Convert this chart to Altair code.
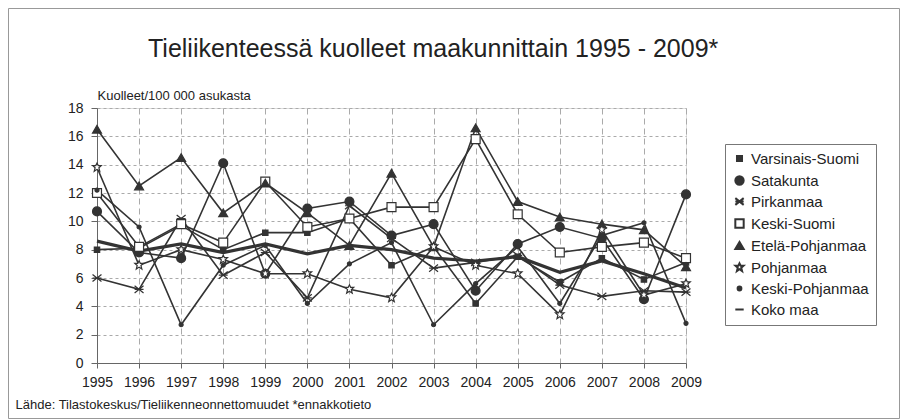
import altair as alt
import pandas as pd

years = [1995, 1996, 1997, 1998, 1999, 2000, 2001, 2002, 2003, 2004, 2005, 2006, 2007, 2008, 2009]

series_names = ["Varsinais-Suomi", "Satakunta", "Pirkanmaa", "Keski-Suomi",
                "Etelä-Pohjanmaa", "Pohjanmaa", "Keski-Pohjanmaa", "Koko maa"]

varsinais_suomi = [8.0, 8.1, 9.7, 8.0, 9.2, 9.2, 10.2, 6.9, 8.2, 4.2, 7.5, 5.7, 7.4, 5.9, 7.1]
satakunta = [10.7, 7.8, 7.4, 14.1, 6.3, 10.9, 11.4, 9.0, 9.8, 5.1, 8.4, 9.6, 8.8, 4.5, 11.9]
pirkanmaa = [6.0, 5.2, 10.2, 6.2, 7.8, 4.6, 11.1, 8.8, 6.7, 7.1, 7.6, 5.5, 4.7, 5.1, 5.0]
keski_suomi = [12.0, 8.2, 9.8, 8.5, 12.8, 9.6, 10.2, 11.0, 11.0, 15.8, 10.5, 7.8, 8.2, 8.5, 7.4]
etela_pohjanmaa = [16.5, 12.5, 14.5, 10.6, 12.7, 10.6, 8.3, 13.4, 8.2, 16.6, 11.4, 10.3, 9.8, 9.4, 6.8]
pohjanmaa = [13.8, 6.9, 8.0, 7.3, 6.3, 6.3, 5.2, 4.6, 8.2, 6.9, 6.3, 3.4, 9.4, 4.8, 5.6]
keski_pohjanmaa = [12.2, 9.6, 2.7, 6.9, 8.3, 4.2, 7.0, 8.5, 2.7, 5.6, 8.2, 4.2, 9.0, 9.9, 2.8]
koko_maa = [8.6, 7.9, 8.4, 7.8, 8.4, 7.7, 8.3, 8.0, 7.4, 7.2, 7.5, 6.4, 7.2, 6.3, 5.3]

y_ticks = [0, 2, 4, 6, 8, 10, 12, 14, 16, 18]

title_text = ["Tieliikenteessä kuolleet maakunnittain 1995 - 2009*"]

all_values = [varsinais_suomi, satakunta, pirkanmaa, keski_suomi,
              etela_pohjanmaa, pohjanmaa, keski_pohjanmaa, koko_maa]

rows = []
for name, vals in zip(series_names, all_values):
    for yr, v in zip(years, vals):
        rows.append({"vuosi": yr, "arvo": v, "sarja": name})
df = pd.DataFrame(rows)

FONT = "Liberation Sans"
LINE = "#333333"

shapes = [
    "M-0.6,-0.6H0.6V0.6H-0.6Z",
    "circle",
    "M-1,-0.8L1,0.8M-1,0.8L1,-0.8M-1,0L1,0",
    "square",
    "triangle-up",
    "M0,-1L0.28,-0.42L0.95,-0.42L0.42,0.06L0.62,0.85L0,0.42L-0.62,0.85L-0.42,0.06L-0.95,-0.42L-0.28,-0.42Z",
    "M0.45,0A0.45,0.45 0 1,1 -0.45,0A0.45,0.45 0 1,1 0.45,0Z",
    "stroke",
]
fills = [LINE, LINE, "transparent", "white", LINE, "white", LINE, LINE]

x_enc = alt.X("vuosi:Q",
              scale=alt.Scale(domain=[1995, 2009], nice=False, zero=False),
              axis=alt.Axis(values=years, format="d",
                            title="Lähde: Tilastokeskus/Tieliikenneonnettomuudet  *ennakkotieto",
                            titleX=-82, titleY=45, titleAlign="left", titleBaseline="alphabetic",
                            titleFontWeight="normal", titleFontSize=13, titleColor="#222", titleFont=FONT,
                            labelFontSize=14, labelColor="#222", labelFont=FONT, labelPadding=7,
                            labelOverlap=False,
                            grid=True, gridDash=[6, 4], gridColor="#aaa", tickColor="#666",
                            domainColor="#666", tickSize=5, labelFlush=False))
y_enc = alt.Y("arvo:Q",
              scale=alt.Scale(domain=[0, 18], nice=False),
              axis=alt.Axis(values=y_ticks, title="Kuolleet/100 000 asukasta",
                            titleAngle=0, titleX=0, titleY=-6, titleAlign="left",
                            titleBaseline="bottom", titleFontWeight="normal", titleFontSize=13,
                            titleColor="#222", titleFont=FONT,
                            labelFontSize=14, labelColor="#222", labelFont=FONT, labelPadding=8,
                            labelOverlap=False,
                            grid=True, gridDash=[3, 3], gridColor="#aaa", tickColor="#666",
                            domainColor="#666", tickSize=6))

lines = alt.Chart(df).mark_line(color=LINE).encode(
    x=x_enc,
    y=y_enc,
    detail="sarja:N",
    order="vuosi:Q",
    strokeWidth=alt.condition(alt.datum.sarja == "Koko maa", alt.value(3.2), alt.value(1.6)),
)

legend = alt.Legend(title=None, orient="none", legendX=628, legendY=36,
                    labelFontSize=15, labelFont=FONT, labelColor="#222",
                    symbolSize=70, symbolStrokeWidth=2, rowPadding=5,
                    strokeColor="#777", padding=7, labelLimit=200, labelOffset=4)

points = alt.Chart(df).transform_filter(alt.datum.sarja != "Koko maa").mark_point(
    size=80, strokeWidth=1.2, opacity=1, filled=False
).encode(
    x=x_enc,
    y=y_enc,
    shape=alt.Shape("sarja:N", sort=series_names,
                    scale=alt.Scale(domain=series_names, range=shapes), legend=legend),
    fill=alt.Fill("sarja:N", sort=series_names,
                  scale=alt.Scale(domain=series_names, range=fills), legend=legend),
    stroke=alt.Stroke("sarja:N", sort=series_names,
                      scale=alt.Scale(domain=series_names, range=[LINE] * 8), legend=legend),
)

title = alt.Chart(pd.DataFrame({"t": title_text})).mark_text(
    align="left", baseline="alphabetic", fontSize=25, font=FONT, color="#222", clip=False
).encode(text="t:N", x=alt.value(51), y=alt.value(-51))

frame = alt.Chart(pd.DataFrame({"k": [0]})).mark_rect(
    fill="transparent", stroke="#999", strokeWidth=1, clip=False
).encode(
    x=alt.value(-88.5), x2=alt.value(802.5), y=alt.value(-99.5), y2=alt.value(310.5)
)

chart = alt.layer(frame, lines, points, title).properties(
    width=589, height=255,
    autosize=alt.AutoSizeParams(type="none"),
    padding={"left": 89, "top": 100, "right": 214, "bottom": 56},
).configure_view(stroke="#777").configure(background="white")

chart.save("out.html", embed_options={"renderer": "svg", "actions": False})
